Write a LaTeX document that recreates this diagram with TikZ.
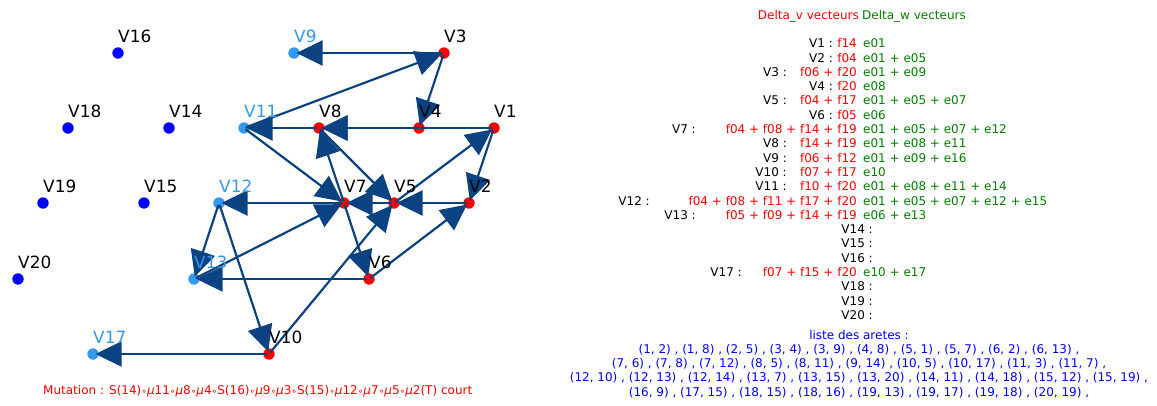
\documentclass[tikz,border=0pt]{standalone}
\usepackage{fontspec}
\setmainfont{DejaVu Sans}
\usetikzlibrary{arrows.meta}
\definecolor{gred}{RGB}{255,0,0}
\definecolor{gcyan}{RGB}{51,153,238}
\definecolor{gblue}{RGB}{0,0,255}
\definecolor{gedge}{RGB}{10,66,130}
\definecolor{ggreen}{RGB}{0,128,0}
\tikzset{
  dot/.style={circle,inner sep=0pt,minimum size=11.4pt,draw=none},
  vlabel/.style={inner sep=0pt,anchor=base west,font=\fontsize{16.9}{20}\selectfont},
  arete/.style={draw=gedge,line width=2.2pt,shorten >=2.5pt,shorten <=2pt,
    -{Triangle[length=26pt,width=25pt]}},
  txt/.style={inner sep=0pt,font=\fontsize{12}{14}\selectfont},
}
% one row of the delta table: index, end of label, red part, green part
\newcommand{\ligne}[4]{%
  \node[txt,anchor=base east] (n#1) at (#2,{43.3+(#1-1)*14.3+4.4}) {V#1 :};
  \node[txt,anchor=base east,text=gred] (r#1) at (857,{43.3+(#1-1)*14.3+4.4}) {#3};
  \node[txt,anchor=base west,text=ggreen] (g#1) at (863,{43.3+(#1-1)*14.3+4.4}) {#4};
}
\newcommand{\mo}{{\fontsize{9}{10}\selectfont ∘}{\itshape μ}}

\begin{document}
\begin{tikzpicture}[x=1pt,y=-1pt]
  \useasboundingbox (0,0) rectangle (1157,405);
  % vertices
  \foreach \k/\x/\y/\c in {1/494/128/gred,2/469/203/gred,3/444/53/gred,
      4/419/128/gred,5/394/203/gred,6/369/279/gred,7/344/203/gred,
      8/319/128/gred,9/294/53/gcyan,10/269/354/gred,11/244/128/gcyan,
      12/219/203/gcyan,13/194/279/gcyan,14/169/128/gblue,15/144/203/gblue,
      16/118/53/gblue,17/93/354/gcyan,18/68/128/gblue,19/43/203/gblue,
      20/18/279/gblue}
    \node[dot,fill=\c] (v\k) at (\x,\y) {};
  % arcs
  \foreach \a/\b in {1/2,1/8,2/5,3/4,3/9,4/8,5/1,5/7,6/2,6/13,7/6,7/8,7/12,
      8/5,8/11,10/5,10/17,11/3,11/7,12/10,12/13,13/7}
    \draw[arete] (v\a.center) -- (v\b.center);
  % vertex labels
  \foreach \k/\t in {1/black,2/black,3/black,4/black,5/black,6/black,7/black,
      8/black,9/gcyan,10/black,11/gcyan,12/gcyan,13/gcyan,14/black,15/black,
      16/black,17/gcyan,18/black,19/black,20/black}
    \node[vlabel,text=\t] (l\k) at ([yshift=11pt]v\k.center) {V\k};
  \node[txt,anchor=base west,text=gred] (mut) at (43,394)
    {Mutation : S(14)\mo11\mo8\mo4{\fontsize{9}{10}\selectfont ∘}S(16)\mo9\mo3{\fontsize{9}{10}\selectfont ∘}S(15)\mo12\mo7\mo5\mo2(T) court};
  % delta table
  \node[txt,anchor=base east,text=gred] (hv) at (859,19.4) {Delta\_v vecteurs};
  \node[txt,anchor=base west,text=ggreen] (hw) at (862,19.4) {Delta\_w vecteurs};
  \ligne{1}{833}{f14}{e01}
  \ligne{2}{833}{f04}{e01 + e05}
  \ligne{3}{787}{f06 + f20}{e01 + e09}
  \ligne{4}{833}{f20}{e08}
  \ligne{5}{787}{f04 + f17}{e01 + e05 + e07}
  \ligne{6}{833}{f05}{e06}
  \ligne{7}{696}{f04 + f08 + f14 + f19}{e01 + e05 + e07 + e12}
  \ligne{8}{787}{f14 + f19}{e01 + e08 + e11}
  \ligne{9}{787}{f06 + f12}{e01 + e09 + e16}
  \ligne{10}{787}{f07 + f17}{e10}
  \ligne{11}{787}{f10 + f20}{e01 + e08 + e11 + e14}
  \ligne{12}{650}{f04 + f08 + f11 + f17 + f20}{e01 + e05 + e07 + e12 + e15}
  \ligne{13}{696}{f05 + f09 + f14 + f19}{e06 + e13}
  \ligne{14}{873}{}{}
  \ligne{15}{873}{}{}
  \ligne{16}{873}{}{}
  \ligne{17}{742}{f07 + f15 + f20}{e10 + e17}
  \ligne{18}{873}{}{}
  \ligne{19}{873}{}{}
  \ligne{20}{873}{}{}
  % edge list
  \node[txt,text=gblue] (ltitre) at (859,335) {liste des aretes :};
  \node[txt,text=gblue] (la) at (859,350) {(1, 2) , (1, 8) , (2, 5) , (3, 4) , (3, 9) , (4, 8) , (5, 1) , (5, 7) , (6, 2) , (6, 13) ,};
  \node[txt,text=gblue] (lb) at (859,364) {(7, 6) , (7, 8) , (7, 12) , (8, 5) , (8, 11) , (9, 14) , (10, 5) , (10, 17) , (11, 3) , (11, 7) ,};
  \node[txt,text=gblue] (lc) at (859,378) {(12, 10) , (12, 13) , (12, 14) , (13, 7) , (13, 15) , (13, 20) , (14, 11) , (14, 18) , (15, 12) , (15, 19) ,};
  \node[txt,text=gblue] (ld) at (859,393) {(16, 9) , (17, 15) , (18, 15) , (18, 16) , (19, 13) , (19, 17) , (19, 18) , (20, 19) ,};
\end{tikzpicture}
\end{document}
